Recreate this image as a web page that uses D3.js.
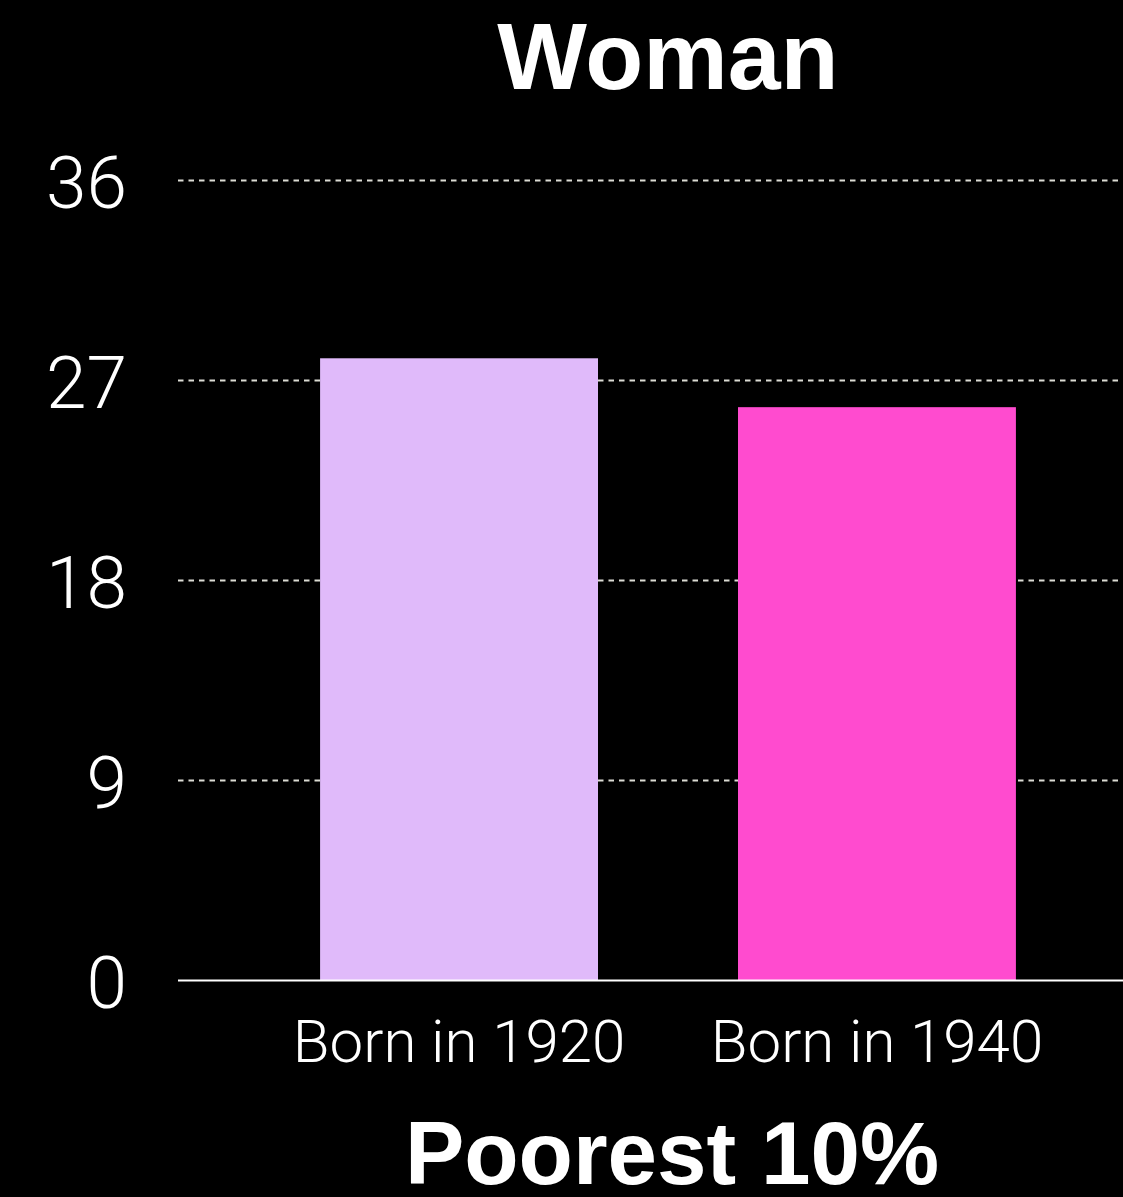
<!DOCTYPE html>
<html>
<head>
<meta charset="utf-8">
<script src="https://cdn.jsdelivr.net/npm/d3@7"></script>
<style>
    html, body { margin: 0; padding: 0; background: #000; }
    svg { display: block; }
</style>
</head>
<body>
<div id="container"></div>
<script>
// chart data
const title = 'Woman';
const subtitle = 'Poorest 10%';
const categories = ['Born in 1920', 'Born in 1940'];
const values = [28, 25.8];
const barColors = ['#E0BAFA', '#FF4BCF'];
const yTicks = [0, 9, 18, 27, 36];

// declare dimensions
const width = 1123;
const height = 1197;
const plotLeft = 178;
const plotTop = 180.5;
const plotBottom = 980.5;

const svg = d3.select('#container')
              .append('svg')
              .attr('width', width)
              .attr('height', height);

svg.append('rect')
   .attr('width', width)
   .attr('height', height)
   .attr('fill', '#000');

// scales
const x = d3.scaleBand()
            .domain(categories)
            .range([plotLeft, 1158])
            .paddingInner(0.335)
            .paddingOuter(0.34);

const y = d3.scaleLinear()
            .domain([0, 36])
            .range([plotBottom, plotTop]);

// dashed gridlines
svg.selectAll('.grid')
   .data(yTicks.filter((d) => d > 0))
   .enter()
   .append('line')
   .attr('class', 'grid')
   .attr('x1', plotLeft)
   .attr('x2', width)
   .attr('y1', (d) => y(d))
   .attr('y2', (d) => y(d))
   .attr('stroke', '#dcdcd4')
   .attr('stroke-width', 2)
   .attr('stroke-dasharray', '5.5,5');

// y tick labels
svg.selectAll('.ytick')
   .data(yTicks)
   .enter()
   .append('text')
   .attr('class', 'ytick')
   .attr('x', 127)
   .attr('y', (d) => y(d))
   .attr('dy', '0.37em')
   .attr('text-anchor', 'end')
   .attr('fill', '#fff')
   .style('font-family', 'Roboto, sans-serif')
   .style('font-weight', 300)
   .style('font-size', '73px')
   .text((d) => d);

// bars
svg.selectAll('.bar')
   .data(values)
   .enter()
   .append('rect')
   .attr('class', 'bar')
   .attr('x', (d, i) => x(categories[i]))
   .attr('width', x.bandwidth())
   .attr('y', (d) => y(d))
   .attr('height', (d) => y(0) - y(d))
   .attr('fill', (d, i) => barColors[i]);

// baseline
svg.append('line')
   .attr('x1', plotLeft)
   .attr('x2', width)
   .attr('y1', y(0))
   .attr('y2', y(0))
   .attr('stroke', '#fff')
   .attr('stroke-width', 2);

// x labels
svg.selectAll('.xlabel')
   .data(categories)
   .enter()
   .append('text')
   .attr('class', 'xlabel')
   .attr('x', (d) => x(d) + x.bandwidth() / 2)
   .attr('y', 1062)
   .attr('text-anchor', 'middle')
   .attr('fill', '#fff')
   .style('font-family', 'Roboto, sans-serif')
   .style('font-weight', 300)
   .style('font-size', '60px')
   .text((d) => d);

// title and subtitle
svg.append('text')
   .attr('x', 668)
   .attr('y', 89)
   .attr('text-anchor', 'middle')
   .attr('fill', '#fff')
   .style('font-family', '"Liberation Sans", Arial, sans-serif')
   .style('font-weight', 700)
   .style('font-size', '95px')
   .text(title);

svg.append('text')
   .attr('x', 672)
   .attr('y', 1184)
   .attr('text-anchor', 'middle')
   .attr('fill', '#fff')
   .style('font-family', '"Liberation Sans", Arial, sans-serif')
   .style('font-weight', 700)
   .style('font-size', '89px')
   .text(subtitle);
</script>
</body>
</html>
